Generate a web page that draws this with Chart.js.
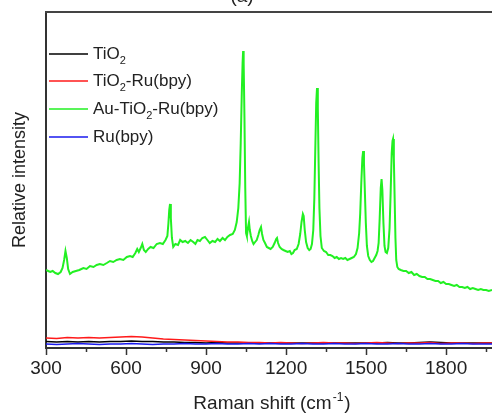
<!DOCTYPE html>
<html>
<head>
<meta charset="utf-8">
<script src="https://cdn.jsdelivr.net/npm/chart.js@4/dist/chart.umd.min.js"></script>
<style>
  body { margin: 0; background: #fff; }
  #wrap { width: 492px; height: 415px; position: relative; }
</style>
</head>
<body>
<div id="wrap"><canvas id="ramanChart"></canvas></div>
<script>
// Series labels (legend order)
const legendLabels = ['TiO2', 'TiO2-Ru(bpy)', 'Au-TiO2-Ru(bpy)', 'Ru(bpy)'];
const seriesColors = ['#000000', '#ff1a1a', '#22f022', '#1a1aee'];

// Au-TiO2-Ru(bpy) spectrum
const greenShift = [300,308,316,325,335,345,355,362,368,373,378,383,390,400,412,425,440,452,465,478,490,502,515,528,540,552,565,577,590,603,615,625,635,642,648,655,661,667,674,683,692,703,715,727,738,748,755,759,762,765,768,772,777,785,795,803,812,822,832,842,852,860,868,877,886,896,905,914,924,934,943,952,962,971,980,990,1000,1008,1015,1021,1026,1030,1034,1037,1039,1041,1044,1047,1050,1053,1057,1061,1064,1068,1073,1078,1084,1090,1096,1101,1106,1110,1115,1121,1128,1135,1142,1150,1157,1163,1166,1170,1176,1183,1190,1198,1206,1214,1220,1226,1232,1240,1247,1253,1258,1263,1266,1270,1275,1281,1287,1292,1297,1302,1306,1310,1313,1316,1319,1322,1325,1329,1334,1342,1350,1358,1366,1374,1382,1390,1398,1406,1414,1422,1430,1438,1446,1454,1462,1468,1474,1478,1482,1486,1489,1492,1495,1499,1503,1508,1514,1520,1526,1532,1538,1543,1547,1551,1555,1558,1561,1565,1569,1573,1578,1583,1588,1592,1596,1599,1601,1604,1607,1610,1613,1617,1622,1630,1640,1650,1660,1670,1680,1690,1700,1710,1720,1730,1740,1750,1760,1770,1780,1790,1800,1810,1820,1830,1840,1850,1860,1870,1880,1890,1900,1910,1920,1930,1940,1950,1960,1972];
const greenIntensity = [78,77,76,77,75,74,76,80,88,97,90,79,74,76,77,78,80,79,82,81,83,84,83,85,87,86,88,89,88,91,92,91,95,99,96,100,104,98,96,99,101,100,104,105,104,108,112,125,138,144,130,110,101,104,103,108,106,107,105,108,106,104,108,107,110,111,108,105,107,106,109,107,110,108,111,113,114,118,126,140,165,205,255,285,297,285,230,160,115,112,120,126,118,112,107,104,106,108,113,118,121,114,108,105,101,100,99,101,105,109,110,105,101,99,98,97,96,97,94,95,98,99,104,114,126,134,132,118,106,100,98,99,104,118,150,205,245,260,240,185,140,112,100,97,96,93,93,92,90,91,89,90,89,90,88,89,90,91,94,100,115,135,165,190,197,185,160,125,102,92,88,86,87,90,93,97,105,130,160,169,158,125,102,96,95,100,120,155,195,207,209,190,150,110,88,81,79,78,77,77,75,76,73,74,72,71,71,69,69,68,67,67,65,66,64,64,63,62,63,61,61,60,61,59,60,59,58,59,58,58,57,58];

// Low-lying spectra share one wavenumber grid
const baseShift = [300,340,380,420,460,500,540,580,620,660,700,740,780,820,860,900,940,980,1020,1060,1100,1140,1180,1220,1260,1300,1340,1380,1420,1460,1500,1540,1580,1620,1660,1700,1740,1780,1820,1860,1900,1940,1980];
const tio2Intensity = [6.5,6,6.5,6,6.5,6,6.5,6.5,7,6.5,6.5,6,6,5.5,5.5,5,5.5,5,5,5,5,5,5,5,5,5,5,5,5,5,5,5,5.5,5,5,5.5,6,5.5,5,5,5,5,5];
const tio2RuIntensity = [10,9.5,10.5,10,10.5,10,10.5,11,11.5,11,10,9,8.5,8,7.5,7,6.5,6,6,5.5,5.5,5,5.5,5,4.5,5,5.5,5,5,4.5,5,5.5,5,4.5,5,5,5.5,4.5,5,5,4.5,5,5];
const rubpyIntensity = [4,3.5,4,4.5,4,3.5,4,4,4.5,4,3.5,4,4,4.5,4,4,4.5,4,4,4.5,4,4.5,4,4,4.5,4,4,4.5,4,4,4.5,4,4,4.5,4,4,4.5,4,4,4.5,4,4,4];

// Axis settings
const xMin = 300;
const xMax = 1972;
const xTickValues = [300,450,600,750,900,1050,1200,1350,1500,1650,1800,1950];
const xTickLabels = ['300','','600','','900','','1200','','1500','','1800',''];
const yMax = 336;

const FONT = "'Liberation Sans', Arial, sans-serif";

function toPoints(xs, ys) {
    return xs.map((x, i) => ({ x: x, y: ys[i] }));
}

// Draws the legend with subscripted "2"
const legendPlugin = {
    id: 'subLegend',
    afterDraw(chart) {
        const ctx = chart.ctx;
        const rows = [54, 81, 109, 137];
        ctx.save();
        legendLabels.forEach((label, i) => {
            const y = rows[i];
            ctx.strokeStyle = seriesColors[i];
            ctx.lineWidth = 1.5;
            ctx.beginPath();
            ctx.moveTo(49, y);
            ctx.lineTo(88, y);
            ctx.stroke();

            ctx.fillStyle = '#222';
            ctx.textBaseline = 'middle';
            let x = 93;
            const parts = label.split('2');
            parts.forEach((part, j) => {
                ctx.font = '17px ' + FONT;
                ctx.fillText(part, x, y);
                x += ctx.measureText(part).width;
                if (j < parts.length - 1) {
                    ctx.font = '11px ' + FONT;
                    ctx.fillText('2', x, y + 7);
                    x += ctx.measureText('2').width;
                }
            });
        });
        ctx.restore();
    }
};

// Top frame line, minor ticks, x title with superscript and panel label
const framePlugin = {
    id: 'frame',
    afterDraw(chart) {
        const ctx = chart.ctx;
        const area = chart.chartArea;
        const xs = chart.scales.x;
        ctx.save();
        ctx.strokeStyle = '#444';
        ctx.lineWidth = 2;
        ctx.beginPath();
        ctx.moveTo(area.left - 1, area.top);
        ctx.lineTo(area.right, area.top);
        ctx.stroke();

        // minor ticks (unlabelled ones)
        ctx.strokeStyle = '#333';
        ctx.lineWidth = 1.5;
        xs.ticks.forEach((t, i) => {
            if (xTickLabels[i] === '') {
                const px = Math.round(xs.getPixelForValue(t.value)) + 0.5;
                ctx.beginPath();
                ctx.moveTo(px, area.bottom);
                ctx.lineTo(px, area.bottom + 4);
                ctx.stroke();
            }
        });

        // x axis title
        ctx.fillStyle = '#222';
        ctx.textBaseline = 'alphabetic';
        const main = 'Raman shift (cm';
        const close = ')';
        ctx.font = '12px ' + FONT;
        const supW = ctx.measureText('-1').width;
        ctx.font = '19px ' + FONT;
        const total = ctx.measureText(main).width + supW + ctx.measureText(close).width + 2;
        let x = 272 - total / 2;
        const base = 409;
        ctx.fillText(main, x, base);
        x += ctx.measureText(main).width + 1;
        ctx.font = '12px ' + FONT;
        ctx.fillText('-1', x, base - 8);
        x += supW + 1;
        ctx.font = '19px ' + FONT;
        ctx.fillText(close, x, base);

        // panel label, mostly cropped at the top
        ctx.textAlign = 'center';
        ctx.fillText('(a)', 242, 2);
        ctx.restore();
    }
};

const ctx = document.getElementById('ramanChart').getContext('2d');
new Chart(ctx, {
    type: 'line',
    data: {
        datasets: [
            { label: legendLabels[0], data: toPoints(baseShift, tio2Intensity), borderColor: seriesColors[0], borderWidth: 1.6, order: 2 },
            { label: legendLabels[1], data: toPoints(baseShift, tio2RuIntensity), borderColor: seriesColors[1], borderWidth: 1.6, order: 1 },
            { label: legendLabels[2], data: toPoints(greenShift, greenIntensity), borderColor: seriesColors[2], borderWidth: 2, order: 3 },
            { label: legendLabels[3], data: toPoints(baseShift, rubpyIntensity), borderColor: seriesColors[3], borderWidth: 1.6, order: 0 }
        ]
    },
    options: {
        responsive: true,
        maintainAspectRatio: false,
        animation: false,
        layout: { padding: { top: 12, right: 0, bottom: 0, left: 0 } },
        elements: {
            point: { radius: 0 },
            line: { tension: 0, fill: false }
        },
        plugins: {
            legend: { display: false },
            tooltip: { enabled: false }
        },
        scales: {
            x: {
                type: 'linear',
                min: xMin,
                max: xMax,
                afterBuildTicks: (scale) => { scale.ticks = xTickValues.map(v => ({ value: v })); },
                afterFit: (scale) => { scale.height = 67; },
                border: { display: true, color: '#333', width: 2 },
                grid: {
                    drawOnChartArea: false,
                    drawTicks: true,
                    tickLength: 7,
                    tickWidth: 1.5,
                    tickColor: (c) => xTickLabels[c.index] ? '#333' : 'rgba(0,0,0,0)'
                },
                ticks: {
                    autoSkip: false,
                    maxRotation: 0,
                    padding: 2,
                    color: '#222',
                    font: { family: FONT, size: 19 },
                    callback: (value, index) => xTickLabels[index]
                }
            },
            y: {
                type: 'linear',
                min: 0,
                max: yMax,
                afterFit: (scale) => { scale.width = 46; },
                border: { display: true, color: '#333', width: 2 },
                grid: { drawOnChartArea: false, drawTicks: false },
                ticks: { display: false },
                title: {
                    display: true,
                    text: 'Relative intensity',
                    color: '#222',
                    font: { family: FONT, size: 18 },
                    padding: { top: 9, bottom: 0 }
                }
            }
        }
    },
    plugins: [legendPlugin, framePlugin]
});
</script>
</body>
</html>
